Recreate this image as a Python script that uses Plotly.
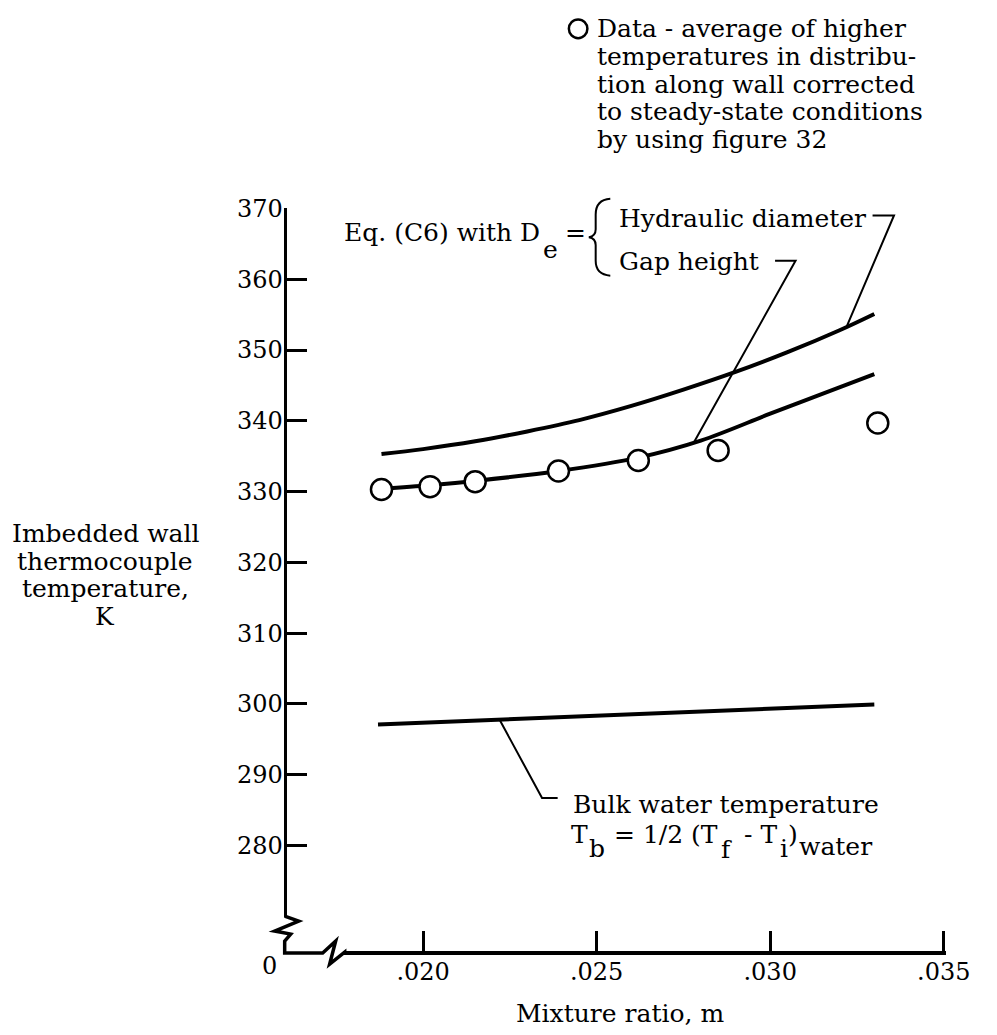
import numpy as np
import plotly.graph_objects as go

# ---- data -----------------------------------------------------------------
# measured points: average of higher wall temperatures (steady-state corrected)
mix_ratio_data = [0.0188, 0.0202, 0.0215, 0.0239, 0.0262, 0.0285, 0.0331]
wall_temp_data = [330.3, 330.7, 331.4, 332.9, 334.4, 335.8, 339.7]

# Eq. (C6) with D_e = hydraulic diameter
mix_ratio_hyd = [0.0188, 0.0200, 0.0215, 0.0230, 0.0245, 0.0260, 0.0275,
                 0.0290, 0.0305, 0.0320, 0.0330]
temp_hyd = [335.3, 336.0, 337.1, 338.5, 340.1, 342.1, 344.4,
            346.9, 349.7, 352.8, 355.1]

# Eq. (C6) with D_e = gap height
mix_ratio_gap = [0.0188, 0.0202, 0.0215, 0.0239, 0.0262, 0.0280, 0.0300, 0.0315, 0.0330]
temp_gap = [330.4, 330.9, 331.5, 332.9, 334.8, 337.2, 341.0, 343.8, 346.6]

# bulk water temperature
mix_ratio_bulk = [0.0187, 0.0330]
temp_bulk = [297.1, 299.9]

y_tick_vals = [280, 290, 300, 310, 320, 330, 340, 350, 360, 370]
x_tick_vals = [0.020, 0.025, 0.030, 0.035]
x_tick_text = [".020", ".025", ".030", ".035"]

legend_lines = [
    "Data - average of higher",
    "temperatures in distribu-",
    "tion along wall corrected",
    "to steady-state conditions",
    "by using figure 32",
]
y_title_lines = ["Imbedded wall", "thermocouple", "temperature,", "K"]

# ---- page geometry (pixels) ---------------------------------------------
W, H = 997, 1035
FONT = "DejaVu Serif"
AX_X, AX_Y = 292, 952          # axis corner
Y_BREAK_TOP = 915              # y axis resumes above its break
X_BREAK_END = 352              # x axis resumes right of its break
X_END = 970
PX_020, PX_035 = 434, 968
PY_370, PY_280 = 198, 843
PX_PER_X = (PX_035 - PX_020) / 0.015
PX_PER_Y = (PY_280 - PY_370) / 90.0


def fx(px):
    return px / W


def fy(py):
    return 1 - py / H


def m_to_px(m):
    return PX_020 + (m - 0.020) * PX_PER_X


def k_to_py(k):
    return PY_370 + (370 - k) * PX_PER_Y


x_range = [0.020 + (X_BREAK_END - PX_020) / PX_PER_X,
           0.020 + (X_END - PX_020) / PX_PER_X]
y_range = [370 - (Y_BREAK_TOP - PY_370) / PX_PER_Y, 370 + 0.5 / PX_PER_Y]

fig = go.Figure()

fig.add_trace(go.Scatter(x=mix_ratio_hyd, y=temp_hyd, mode="lines",
                         line=dict(color="black", width=4, shape="spline"),
                         hoverinfo="skip"))
fig.add_trace(go.Scatter(x=mix_ratio_gap, y=temp_gap, mode="lines",
                         line=dict(color="black", width=4, shape="spline"),
                         hoverinfo="skip"))
fig.add_trace(go.Scatter(x=mix_ratio_bulk, y=temp_bulk, mode="lines",
                         line=dict(color="black", width=4),
                         hoverinfo="skip"))
fig.add_trace(go.Scatter(x=mix_ratio_data, y=wall_temp_data, mode="markers",
                         marker=dict(symbol="circle", size=21, color="white",
                                     line=dict(color="black", width=2.5)),
                         name="Data"))

# ---- text -----------------------------------------------------------------
ann = []


def text(s, px, py, anchor="left", size=25):
    ann.append(dict(text=s, x=fx(px), y=fy(py), xref="paper", yref="paper",
                    xanchor=anchor, yanchor="middle", showarrow=False,
                    font=dict(family=FONT, size=size, color="black")))


LEG_X, LEG_Y0, LEG_DY = 610, 16, 28
for i, line in enumerate(legend_lines):
    text(line, LEG_X, LEG_Y0 + i * LEG_DY)

for i, line in enumerate(y_title_lines):
    text(line, 108, 527 + i * 28, anchor="center")

text("Mixture ratio, m", 636, 1013, anchor="center")
text("0", 276, 965, anchor="center", size=24)

# Eq. (C6) label with braced alternatives (subscripts dropped half a line)
text("Eq. (C6) with D", 556, 222, anchor="right")
text("e", 555, 240)
text("=", 577, 222)
text("Hydraulic diameter", 633, 208)
text("Gap height", 633, 252)

# bulk water label
MAIN_Y, SUB_Y = 832, 846
text("Bulk water temperature", 586, 802)
text("T", 584, MAIN_Y)
text("b", 602, SUB_Y)
text("= 1/2 (T", 739, MAIN_Y, anchor="right")
text("f", 738, SUB_Y + 1)
text("- T", 799, MAIN_Y, anchor="right")
text("i", 798, SUB_Y)
text(")", 806, MAIN_Y)
text("water", 817, SUB_Y - 2)

# ---- shapes ----------------------------------------------------------------
shapes = []

# axis breaks near the origin (pixel offsets from the corner, +y up)
shapes.append(dict(type="path", xref="paper", yref="paper",
                   xsizemode="pixel", ysizemode="pixel",
                   xanchor=fx(AX_X), yanchor=fy(AX_Y),
                   path="M 0,37 L 14,32 L -10,22 L 6,19 L 0,12 L 0,0 "
                        "L 38,0 L 51,12 L 45,-11 L 60,1 L 60,0",
                   line=dict(color="black", width=3.5)))


def ppath(points):
    parts = []
    for i, (px, py) in enumerate(points):
        parts.append(("M " if i == 0 else "L ") + f"{fx(px):.5f},{fy(py):.5f}")
    return " ".join(parts)


# curly brace grouping the two D_e choices
bx = 611
brace = (f"M {fx(626):.5f},{fy(188):.5f} Q {fx(bx):.5f},{fy(189):.5f} {fx(bx):.5f},{fy(204):.5f} "
         f"L {fx(bx):.5f},{fy(219):.5f} Q {fx(bx):.5f},{fy(226):.5f} {fx(604):.5f},{fy(227):.5f} "
         f"Q {fx(bx):.5f},{fy(228):.5f} {fx(bx):.5f},{fy(235):.5f} "
         f"L {fx(bx):.5f},{fy(251):.5f} Q {fx(bx):.5f},{fy(265):.5f} {fx(626):.5f},{fy(266):.5f}")
shapes.append(dict(type="path", xref="paper", yref="paper", path=brace,
                   line=dict(color="black", width=2)))

# leader lines to the curves
m_hyd = 0.0322
p_hyd = (m_to_px(m_hyd), k_to_py(np.interp(m_hyd, mix_ratio_hyd, temp_hyd)))
shapes.append(dict(type="path", xref="paper", yref="paper",
                   path=ppath([(895, 205), (917, 205), p_hyd]),
                   line=dict(color="black", width=2)))

m_gap = 0.0278
p_gap = (m_to_px(m_gap), k_to_py(np.interp(m_gap, mix_ratio_gap, temp_gap)))
shapes.append(dict(type="path", xref="paper", yref="paper",
                   path=ppath([(795, 251), (816, 251), p_gap]),
                   line=dict(color="black", width=2)))

m_bulk = 0.0222
p_bulk = (m_to_px(m_bulk), k_to_py(np.interp(m_bulk, mix_ratio_bulk, temp_bulk)))
shapes.append(dict(type="path", xref="paper", yref="paper",
                   path=ppath([p_bulk, (556, 795), (572, 795)]),
                   line=dict(color="black", width=2)))

# legend symbol
shapes.append(dict(type="circle", xref="paper", yref="paper",
                   x0=fx(583.5), x1=fx(602.5), y0=fy(25.5), y1=fy(6.5),
                   line=dict(color="black", width=2.5), fillcolor="white"))

fig.update_layout(
    width=W, height=H,
    margin=dict(l=0, r=0, t=0, b=0),
    paper_bgcolor="white", plot_bgcolor="white",
    showlegend=False,
    font=dict(family=FONT, size=24, color="black"),
    xaxis=dict(domain=[fx(X_BREAK_END), fx(X_END)], range=x_range,
               anchor="free", position=fy(AX_Y),
               showline=True, linewidth=4, linecolor="black",
               ticks="inside", ticklen=20, tickwidth=2.5, tickcolor="black",
               tickvals=x_tick_vals, ticktext=x_tick_text,
               ticklabelstandoff=-4,
               tickfont=dict(family=FONT, size=24, color="black"),
               showgrid=False, zeroline=False),
    yaxis=dict(domain=[fy(Y_BREAK_TOP), fy(PY_370 - 0.5)], range=y_range,
               anchor="free", position=fx(AX_X),
               showline=True, linewidth=3, linecolor="black",
               ticks="inside", ticklen=20, tickwidth=2.5, tickcolor="black",
               tickvals=y_tick_vals, ticklabelstandoff=-4,
               tickfont=dict(family=FONT, size=24, color="black"),
               showgrid=False, zeroline=False),
    annotations=ann,
    shapes=shapes,
)

fig.write_html("out.html")
